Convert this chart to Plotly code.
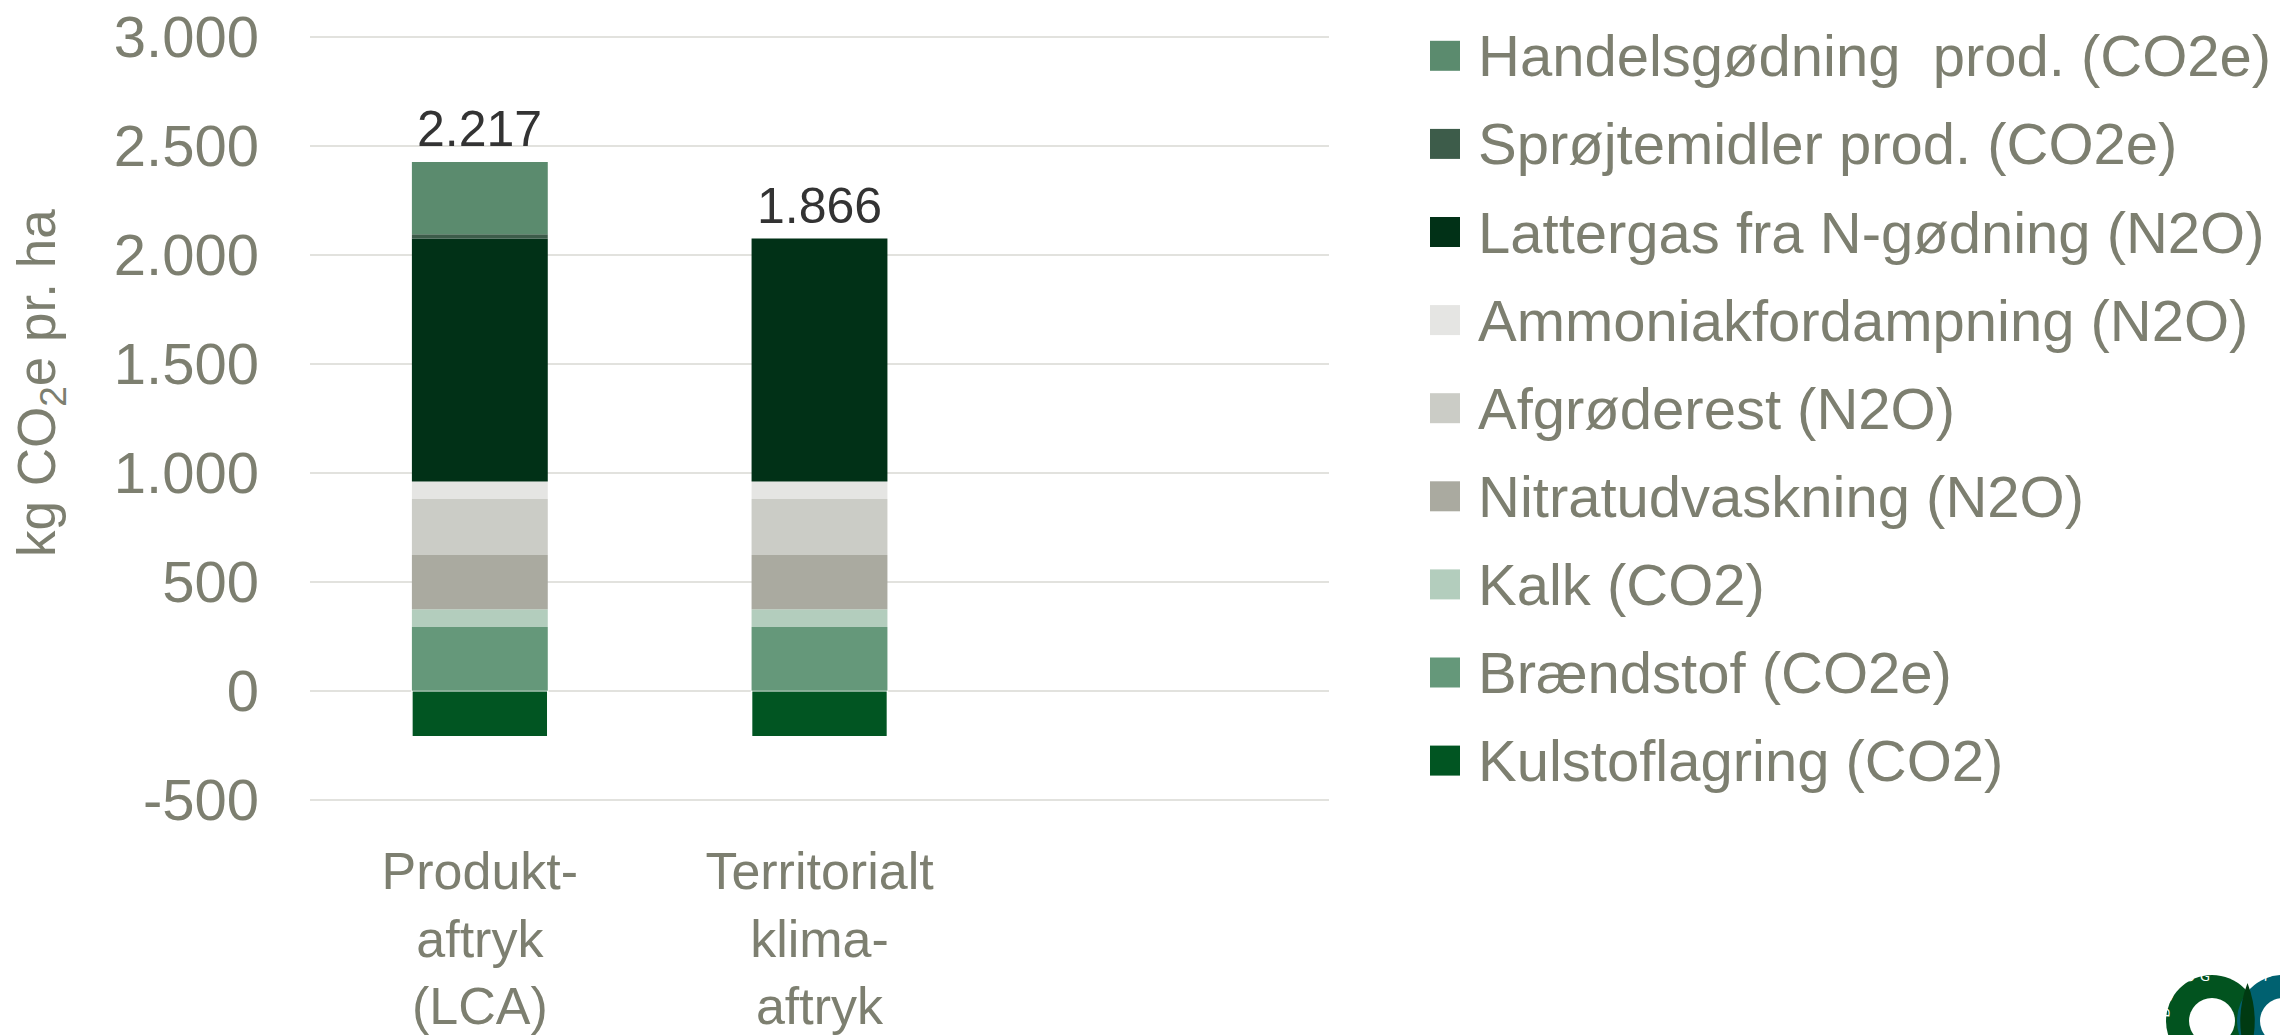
import plotly.graph_objects as go

# ---------------- data ----------------
categories = ["Produkt-<br>aftryk<br>(LCA)", "Territorialt<br>klima-<br>aftryk"]

# series in stacking order (bottom -> top); kulstof is negative
series_names = [
    "Kulstoflagring (CO2)",
    "Brændstof (CO2e)",
    "Kalk (CO2)",
    "Nitratudvaskning (N2O)",
    "Afgrøderest (N2O)",
    "Ammoniakfordampning (N2O)",
    "Lattergas fra N-gødning (N2O)",
    "Sprøjtemidler prod. (CO2e)",
    "Handelsgødning  prod. (CO2e)",
]
kulstof = [-210, -210]
braendstof = [293, 293]
kalk = [82, 82]
nitrat = [248, 248]
afgroede = [258, 258]
ammoniak = [80, 80]
lattergas = [1115, 1115]
sproejte = [20, 0]
handels = [331, 0]
series_values = [kulstof, braendstof, kalk, nitrat, afgroede, ammoniak,
                 lattergas, sproejte, handels]

series_colors = [
    "#015522", "#65987a", "#b3cdbd", "#aaaaa0", "#cbccc6",
    "#e5e5e3", "#013117", "#3d5c4a", "#5b8b6e",
]

y_tick_vals = [-500, 0, 500, 1000, 1500, 2000, 2500, 3000]
y_tick_text = ["-500", "0", "500", "1.000", "1.500", "2.000", "2.500", "3.000"]

# ---------------- layout geometry ----------------
W, H = 2280, 1035
L, R, T, B = 310, 951, 35, 233
PW, PH = W - L - R, H - T - B

def px_x(px):
    return (px - L) / PW

def px_y(py):
    return (T + PH - py) / PH

TXT = "#7d7f70"
SANS = "Liberation Sans, Arial, sans-serif"

fig = go.Figure()
for name, vals, col in zip(series_names, series_values, series_colors):
    fig.add_trace(go.Bar(
        x=categories, y=vals, name=name,
        marker=dict(color=col,
                    line=dict(width=1.5 if name.startswith("Kulstof") else 0,
                              color="white")),
        width=0.4, showlegend=False,
    ))

# totals above bars
annotations = []
for i, cat in enumerate(categories):
    total = sum(v[i] for v in series_values)
    pos_top = sum(v[i] for v in series_values if v[i] > 0)
    annotations.append(dict(
        x=cat, y=pos_top, xref="x", yref="y", text=f"{total:,}".replace(",", "."),
        showarrow=False, yanchor="bottom", yshift=3,
        font=dict(family=SANS, size=50, color="#333333"),
    ))

# y axis title
annotations.append(dict(
    x=px_x(40), y=px_y(383), xref="paper", yref="paper",
    text="kg CO<sub>2</sub>e pr. ha", textangle=-90, showarrow=False,
    xanchor="center", yanchor="middle",
    font=dict(family=SANS, size=53, color=TXT),
))

# manual legend (top -> bottom is reverse stacking order)
shapes = []
leg_names = list(reversed(series_names))
leg_colors = list(reversed(series_colors))
for i, (nm, col) in enumerate(zip(leg_names, leg_colors)):
    cy = 55.8 + i * 88.1
    shapes.append(dict(type="rect", xref="paper", yref="paper",
                       x0=px_x(1430), x1=px_x(1460), y0=px_y(cy + 15), y1=px_y(cy - 15),
                       fillcolor=col, line=dict(width=0)))
    annotations.append(dict(
        x=px_x(1476), y=px_y(cy), xref="paper", yref="paper", text=nm,
        showarrow=False, xanchor="left", yanchor="middle",
        font=dict(family=SANS, size=58, color=TXT),
    ))

# logo (partial, bottom-right)
def circle(cx, cy, r, color):
    return dict(type="circle", xref="paper", yref="paper",
                x0=px_x(cx - r), x1=px_x(cx + r), y0=px_y(cy + r), y1=px_y(cy - r),
                fillcolor=color, line=dict(width=0), layer="above")

shapes += [
    circle(2212, 1021, 46, "#02531f"),
    circle(2283, 1021, 46, "#006170"),
]
shapes.append(dict(type="path", xref="paper", yref="paper", layer="above",
                   path=(f"M {px_x(2247.5)},{px_y(983)} "
                         f"Q {px_x(2262)},{px_y(1021)} {px_x(2247.5)},{px_y(1059)} "
                         f"Q {px_x(2233)},{px_y(1021)} {px_x(2247.5)},{px_y(983)} Z"),
                   fillcolor="#003a12", line=dict(width=0)))
shapes += [
    circle(2212, 1021, 23, "white"),
    circle(2283, 1021, 23, "white"),
]
for ch, lx, ly, ang in [("G", 2212, 986, 0), ("U", 2200, 988, -20), ("R", 2189, 995, -41),
                        ("B", 2180, 1006, -64), ("D", 2175, 1020, -86), ("F", 2274, 986, 5)]:
    annotations.append(dict(x=px_x(lx), y=px_y(ly), xref="paper", yref="paper", text=ch,
                            showarrow=False, textangle=ang,
                            font=dict(family="DejaVu Sans", size=13, color="white")))

fig.update_layout(
    width=W, height=H, autosize=False,
    margin=dict(l=L, r=R, t=T, b=B, pad=0, autoexpand=False),
    barmode="relative", bargap=0.6,
    paper_bgcolor="white", plot_bgcolor="white",
    showlegend=False,
    annotations=annotations, shapes=shapes,
    xaxis=dict(type="category", range=[-0.5, 2.5], showgrid=False, zeroline=False,
               showline=False, ticks="", ticklabelstandoff=34, automargin=False,
               tickfont=dict(family=SANS, size=52, color=TXT)),
    yaxis=dict(range=[-510, 3010], tickvals=y_tick_vals, ticktext=y_tick_text,
               showgrid=True, gridcolor="#e2e2de", gridwidth=2, automargin=False,
               zeroline=False, showline=False, ticks="", ticklabelstandoff=50,
               tickfont=dict(family=SANS, size=58, color=TXT)),
)

fig.write_html("out.html", config={"displayModeBar": False},
               post_script="document.body.style.margin='0px';document.body.style.padding='0px';")
